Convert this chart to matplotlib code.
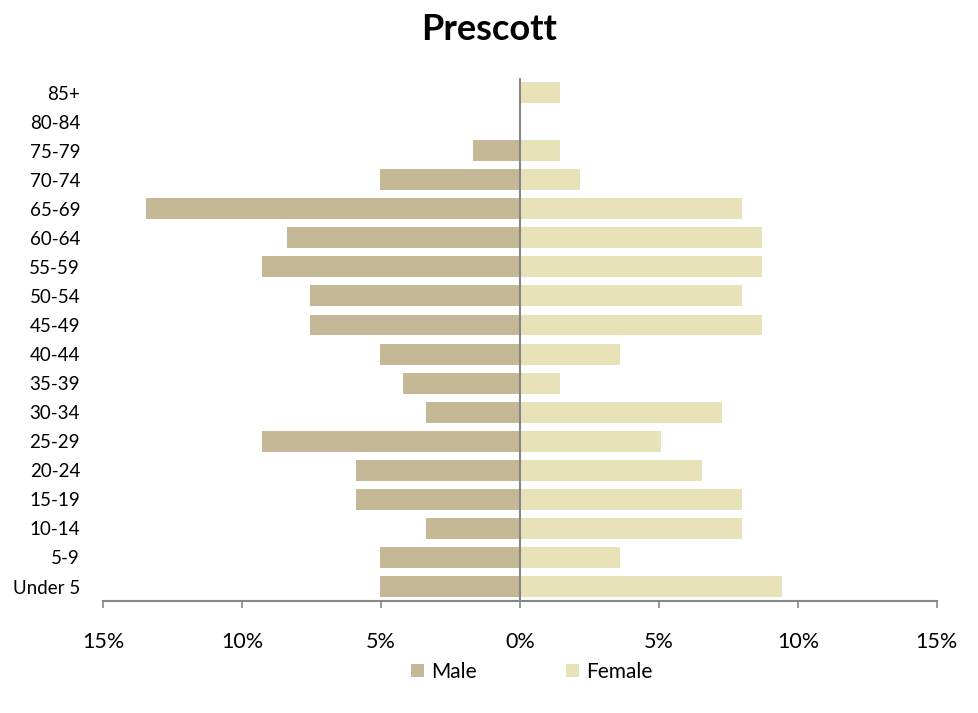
import matplotlib
matplotlib.use("Agg")
import matplotlib.pyplot as plt
import numpy as np

plt.rcParams['font.family'] = ['Lato', 'DejaVu Sans']

categories = ["Under 5", "5-9", "10-14", "15-19", "20-24", "25-29", "30-34", "35-39",
              "40-44", "45-49", "50-54", "55-59", "60-64", "65-69", "70-74", "75-79",
              "80-84", "85+"]
male = [5.04, 5.04, 3.38, 5.9, 5.9, 9.28, 3.38, 4.2, 5.04, 7.55, 7.55, 9.28, 8.38,
        13.45, 5.04, 1.69, 0.0, 0.0]
female = [9.42, 3.6, 7.99, 7.99, 6.55, 5.07, 7.27, 1.44, 3.6, 8.7, 7.99, 8.7, 8.7,
          7.99, 2.16, 1.44, 0.0, 1.44]
xticks = [-15, -10, -5, 0, 5, 10, 15]
xticklabels = ["15%", "10%", "5%", "0%", "5%", "10%", "15%"]

male_color = "#C4B896"
female_color = "#E8E2B8"

fig = plt.figure(figsize=(9.79, 7.13), dpi=100)
ax = fig.add_axes([0.1052, 0.157, 0.8518, 0.7336])
y = np.arange(len(categories))
ax.barh(y, [-v for v in male], height=0.72, color=male_color, label="Male")
ax.barh(y, female, height=0.72, color=female_color, label="Female")

ax.set_xlim(-15, 15)
ax.set_ylim(-0.5, len(categories) - 0.5)
for s in ["top", "right", "left"]:
    ax.spines[s].set_visible(False)
ax.spines["bottom"].set_color("#868686")
ax.spines["bottom"].set_linewidth(1.5)
ax.axvline(0, color="#868686", lw=1.5, zorder=3)

ax.set_xticks(xticks)
ax.set_xticklabels(xticklabels, fontsize=15.5)
ax.tick_params(axis="x", direction="out", length=5, width=1.2, color="#868686", pad=17)
ax.set_yticks(y)
ax.set_yticklabels(categories, fontsize=13.5)
ax.tick_params(axis="y", length=0, pad=16.5)

fig.text(0.5, 0.959, "Prescott", ha="center", va="center", fontsize=26, fontweight="bold")

leg = fig.legend(loc="center", bbox_to_anchor=(0.543, 0.058), ncol=2, frameon=False,
                 fontsize=15, handlelength=0.62, handleheight=0.62, columnspacing=4.3,
                 handletextpad=0.35)

fig.savefig("out.png", dpi=100)
